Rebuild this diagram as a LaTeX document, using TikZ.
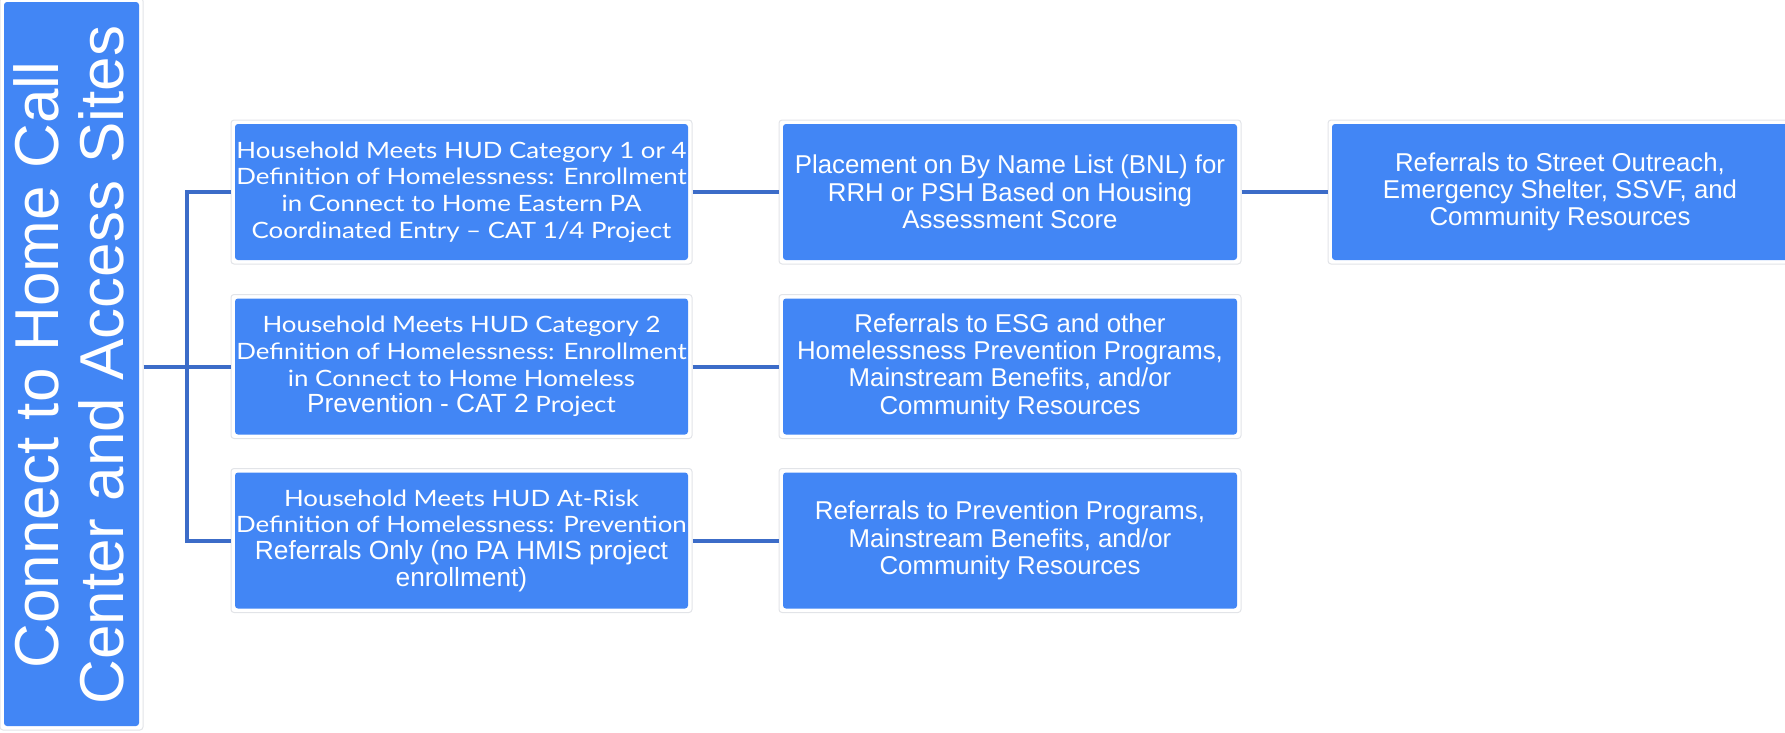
\documentclass[tikz,border=0pt]{standalone}
\usepackage{fontspec}
\setmainfont{Liberation Sans}
\newfontfamily\proxfont[FakeStretch=1.15]{Lato}
% Arial-style runs inside the first-column boxes
\newcommand{\plainrun}[1]{{\rmfamily\fontsize{26.3}{26.7}\selectfont #1}}
\begin{document}
\definecolor{boxblue}{HTML}{4286F5}
\definecolor{linkblue}{HTML}{3C6CC8}
\definecolor{rimgray}{HTML}{E2E4E8}
\begin{tikzpicture}[x=1pt,y=-1pt,
  card/.style={rectangle, rounded corners=3pt, draw=rimgray, line width=1pt, fill=white,
    inner sep=0pt, text=white, align=center,
    path picture={\fill[boxblue]
      ([shift={(4pt,-4pt)}]path picture bounding box.north west) rectangle
      ([shift={(-4pt,4pt)}]path picture bounding box.south east);}},
  colA/.style={card, minimum width=461pt, minimum height=144pt,
    font=\proxfont\fontsize{22.5}{26.7}\selectfont},
  colB/.style={card, minimum width=462pt, minimum height=144pt,
    font=\fontsize{25.8}{27.3}\selectfont},
  conn/.style={draw=linkblue, line width=4pt}]
\useasboundingbox (0,0) rectangle (1785,732);

% vertical title box
\node[card, minimum width=143pt, minimum height=732pt] (L) at (71.5,364) {};
\node[rotate=90, text=white, align=center, inner sep=0pt,
  font=\fontsize{62}{65}\selectfont] (Lt) at (69,365)
  {Connect to Home Call\\Center and Access Sites};

% first column: household categories
\node[colA] (a1) at (461.5,192)
  {Household Meets HUD Category 1 or 4\\Definition of Homelessness: Enrollment\\in Connect to Home Eastern PA\\Coordinated Entry \symbol{"2013} CAT 1/4 Project};
\node[colA] (a2) at (461.5,366.5)
  {Household Meets HUD Category 2\\Definition of Homelessness: Enrollment\\in Connect to Home Homeless\\\plainrun{Prevention - CAT 2} Project};
\node[colA] (a3) at (461.5,540.5)
  {Household Meets HUD At-Risk\\Definition of Homelessness: Prevention\\\plainrun{Referrals Only (no PA HMIS project}\\\plainrun{enrollment)}};

% second column: next steps
\node[colB] (b1) at (1010,192)
  {Placement on By Name List (BNL) for\\RRH or PSH Based on Housing\\Assessment Score};
\node[colB] (b2) at (1010,366.5)
  {Referrals to ESG and other\\Homelessness Prevention Programs,\\Mainstream Benefits, and/or\\Community Resources};
\node[colB] (b3) at (1010,540.5)
  {Referrals to Prevention Programs,\\Mainstream Benefits, and/or\\Community Resources};

% third column
\node[colB, minimum width=464pt] (c1) at (1560,192)
  {Referrals to Street Outreach,\\Emergency Shelter, SSVF, and\\Community Resources};

% connectors
\coordinate (j) at (187,366);
\draw[conn] (a1.west) -- (a1.west -| j) -- (a3.west -| j) -- (a3.west);
\draw[conn] (L.east |- a2) -- (a2.west);
\draw[conn] (a1) -- (b1);
\draw[conn] (a2) -- (b2);
\draw[conn] (a3) -- (b3);
\draw[conn] (b1) -- (c1);
\end{tikzpicture}
\end{document}
